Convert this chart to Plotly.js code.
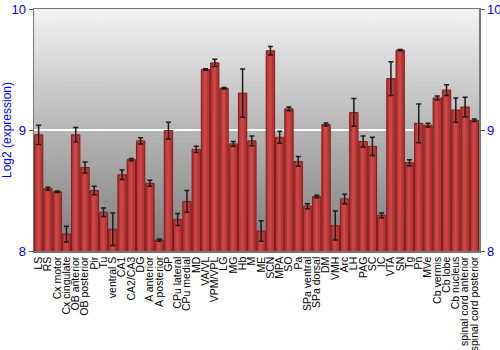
<!DOCTYPE html>
<html>
<head>
<meta charset="utf-8">
<script src="https://cdn.plot.ly/plotly-3.0.1.min.js"></script>
<style>html,body{margin:0;padding:0;background:#fff;}#chart{width:500px;height:350px;}</style>
</head>
<body>
<div id="chart"></div>
<script>
var regions = ["LS","RS","Cx motor","Cx cingulate","OB anterior","OB posterior","Pir","Tu","ventral S","CA1","CA2/CA3","DG","A anterior","A posterior","GP","CPu lateral","CPu medial","MD","VA/VL","VPM/VPL","LG","MG","Hb","M","ME","SCN","MPA","SO","Pa","SPa ventral","SPa dorsal","DM","VMH","Arc","LH","PAG","SC","IC","VTA","SN","Tg","Pn","MVe","Cb vermis","Cb lobe","Cb nucleus","spinal cord anterior","spinal cord posterior"];
var expression = [8.96,8.515,8.49,8.14,8.96,8.69,8.50,8.32,8.18,8.63,8.755,8.91,8.56,8.09,8.995,8.26,8.41,8.84,9.50,9.555,9.345,8.885,9.305,8.91,8.165,9.655,8.94,9.175,8.74,8.37,8.45,9.045,8.21,8.43,9.145,8.905,8.865,8.295,9.425,9.66,8.73,9.055,9.04,9.265,9.33,9.165,9.19,9.08];
var errors = [0.08,0.012,0.006,0.065,0.06,0.045,0.035,0.035,0.135,0.04,0.01,0.025,0.025,0.01,0.07,0.05,0.09,0.025,0.006,0.03,0.006,0.02,0.2,0.04,0.085,0.035,0.05,0.015,0.04,0.02,0.01,0.012,0.12,0.04,0.115,0.045,0.075,0.02,0.14,0.006,0.025,0.16,0.015,0.017,0.045,0.1,0.08,0.01];
var yTicks = [8, 9, 10];

// vertical gradient background image
var cv = document.createElement('canvas');
cv.width = 10; cv.height = 200;
var cx = cv.getContext('2d');
var g = cx.createLinearGradient(0, 0, 0, 200);
g.addColorStop(0, '#f3f3f3');
g.addColorStop(0.5, '#b6b6b6');
g.addColorStop(1, '#7d7d7d');
cx.fillStyle = g; cx.fillRect(0, 0, 10, 200);
var bg = cv.toDataURL();

var bars = {
  type: 'bar', x: regions, y: expression,
  marker: {color: '#b93434', line: {color: '#7e1c1c', width: 1}},
  hoverinfo: 'x+y', showlegend: false
};
var highlight = {
  type: 'bar', x: regions, y: expression, width: 0.35, offset: -0.22,
  marker: {color: 'rgba(225,95,95,0.45)', line: {width: 0}},
  hoverinfo: 'skip', showlegend: false
};
var errs = {
  type: 'scatter', mode: 'markers', x: regions, y: expression, yaxis: 'y2',
  marker: {size: 1, color: 'rgba(0,0,0,0)'},
  error_y: {type: 'data', array: errors, visible: true, color: '#1a1a1a', thickness: 1.5, width: 2.5},
  hoverinfo: 'skip', showlegend: false
};

var layout = {
  width: 500, height: 350,
  margin: {l: 34, r: 21, t: 9, b: 99, pad: 0, autoexpand: false},
  paper_bgcolor: '#ffffff', plot_bgcolor: 'rgba(0,0,0,0)',
  barmode: 'overlay', bargap: 0.1,
  font: {family: 'Liberation Sans, Arial, sans-serif', size: 12, color: '#000'},
  images: [{source: bg, xref: 'paper', yref: 'paper', x: 0, y: 1, sizex: 1, sizey: 1, sizing: 'stretch', layer: 'below'}],
  xaxis: {
    type: 'category', tickangle: -90,
    tickfont: {family: 'Liberation Sans, Arial, sans-serif', size: 10.5, color: '#000'},
    range: [-0.5, regions.length - 0.5],
    tickmode: 'array', tickvals: regions, ticktext: regions,
    showline: true, mirror: true, linecolor: '#777', linewidth: 1.5,
    ticks: '', showgrid: false, automargin: false
  },
  yaxis: {
    range: [8, 10], tickvals: yTicks, ticktext: yTicks.map(String),
    tickfont: {size: 13, color: '#0000ff'}, ticks: 'outside', ticklen: 4, tickcolor: '#555',
    showline: true, linecolor: '#777', linewidth: 1.5,
    showgrid: true, gridcolor: '#ffffff', gridwidth: 1.5, zeroline: false,
    title: {text: 'Log2 (expression)', font: {size: 12, color: '#0000ff'}},
    automargin: false
  },
  yaxis2: {
    range: [8, 10], tickvals: yTicks, ticktext: yTicks.map(String),
    overlaying: 'y', side: 'right',
    tickfont: {size: 13, color: '#0000ff'}, ticks: 'outside', ticklen: 4, tickcolor: '#555',
    showline: true, linecolor: '#777', linewidth: 1.5, showgrid: false, zeroline: false,
    automargin: false
  }
};

Plotly.newPlot('chart', [bars, highlight, errs], layout, {displayModeBar: false, staticPlot: true});
</script>
</body>
</html>
